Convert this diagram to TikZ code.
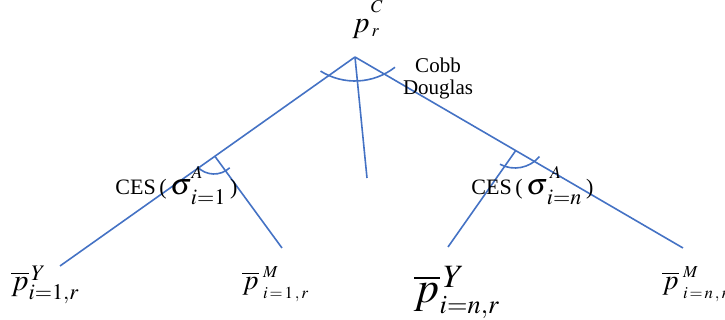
\documentclass[tikz,border=0pt]{standalone}
\usepackage{mathptmx}
\usepackage{fontspec}
\setmainfont{Liberation Serif}
\usetikzlibrary{calc}

\definecolor{lineblue}{RGB}{68,114,196}
\tikzset{
  branch/.style={lineblue, line width=0.8pt},
  lbl/.style={anchor=base west, inner sep=0pt}
}
\newcommand{\up}[2]{\raisebox{#1}{$\scriptscriptstyle #2$}}

\begin{document}
\begin{tikzpicture}[x=0.5pt, y=-0.5pt]
\useasboundingbox (0,0) rectangle (725,320);

\coordinate (C) at (355,57);
\coordinate (Y1) at (60,266);
\coordinate (Mn) at (683,248);
\coordinate (Mid) at (367,178);
\coordinate (A1) at ($(C)!0.475!(Y1)$);
\coordinate (An) at ($(C)!0.49!(Mn)$);
\coordinate (M1) at (282,248);
\coordinate (Yn) at (448,247);

% tree
\draw[branch] (C) -- (Y1);
\draw[branch] (C) -- (Mn);
\draw[branch] (C) -- (Mid);
\draw[branch] (A1) -- (M1);
\draw[branch] (An) -- (Yn);

% nesting arcs
\draw[branch] (355,16) ++(122:65) arc[start angle=122, end angle=52, radius=65];
\draw[branch] (214,151) ++(137:23) arc[start angle=137, end angle=47, radius=23];
\draw[branch] (515,136) ++(118:32) arc[start angle=118, end angle=40, radius=32];

% labels
\node[lbl, font=\fontsize{15}{17}\selectfont] (pC) at (352,33)
  {$p\hspace{1pt}\up{-2pt}{r}\hspace{-4pt}\up{10pt}{C}$};
\node[align=center, font=\fontsize{10.5}{11}\selectfont] (cd) at (438,78) {Cobb\\Douglas};
\node[lbl, font=\fontsize{11}{12}\selectfont] (ces1) at (115,195)
  {CES\,(\,{\fontsize{15}{15}\selectfont$\sigma^{\raisebox{3pt}{$\scriptscriptstyle A$}}_{\,\raisebox{-1pt}{$\scriptstyle i=1$}}$}\,)};
\node[lbl, font=\fontsize{11}{12}\selectfont] (cesn) at (471,195)
  {CES\,(\,{\fontsize{15}{15}\selectfont$\sigma^{\,\raisebox{3pt}{$\scriptscriptstyle A$}}_{\,\raisebox{-1pt}{$\scriptstyle i=n$}}$}\,)};
\node[lbl, font=\fontsize{15}{16}\selectfont] (pY1) at (11,291)
  {$\overline{p}^{\,Y}_{i=1,r}$};
\node[lbl, font=\fontsize{14}{15}\selectfont] (pM1) at (242,290)
  {$\overline{p}^{\;\up{1pt}{M}}_{\;\up{-1pt}{i\,=\,1\,,\,r}}$};
\node[lbl, font=\fontsize{22}{24}\selectfont] (pYn) at (414,303)
  {$\overline{p}^{\,\scriptstyle Y}_{\scriptscriptstyle i=n,r}$};
\node[lbl, font=\fontsize{14}{15}\selectfont] (pMn) at (662,290)
  {$\overline{p}^{\;\up{1pt}{M}}_{\;\up{-1pt}{i\,=\,n\,,\,r}}$};
\end{tikzpicture}
\end{document}
